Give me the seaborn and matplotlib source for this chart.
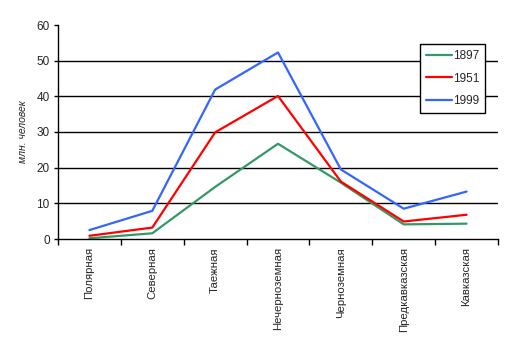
import matplotlib
matplotlib.use("Agg")
import matplotlib.pyplot as plt
import seaborn as sns
import pandas as pd
from matplotlib.ticker import FixedLocator

categories = ["Полярная", "Северная", "Таежная", "Нечерноземная", "Черноземная", "Предкавказская", "Кавказская"]
years = ["1897", "1951", "1999"]
v1897 = [0.2, 1.6, 14.6, 26.7, 15.8, 4.1, 4.3]
v1951 = [0.9, 3.2, 29.9, 40.1, 16.1, 4.9, 6.8]
v1999 = [2.5, 7.9, 41.9, 52.3, 19.5, 8.5, 13.3]
y_ticks = [0, 10, 20, 30, 40, 50, 60]
y_label = "млн. человек"

rows = []
for yr, vals in zip(years, [v1897, v1951, v1999]):
    for c, v in zip(categories, vals):
        rows.append({"Зона": c, "value": v, "year": yr})
df = pd.DataFrame(rows)

sns.set_style("white")
plt.rcParams["font.family"] = ["Liberation Sans", "DejaVu Sans"]

fig = plt.figure(figsize=(5.19, 3.46), dpi=100)
ax = fig.add_axes([58/519, 1-239/346, 440/519, 214/346])

palette = {"1897": "#339966", "1951": "#FF0000", "1999": "#3366FF"}
sns.lineplot(data=df, x="Зона", y="value", hue="year", palette=palette,
             linewidth=1.6, ax=ax, sort=False)

ax.set_xlim(-0.5, len(categories) - 0.5)
ax.set_ylim(0, 60)
ax.set_yticks(y_ticks)
ax.set_yticklabels([str(t) for t in y_ticks], fontsize=8.5)
for t in y_ticks[1:-1]:
    ax.axhline(t, color="black", linewidth=1.0, zorder=0)

ax.set_xticks(range(len(categories)))
ax.set_xticklabels(categories, rotation=90, fontsize=8.2)
ax.tick_params(axis="x", which="major", length=0, pad=6)
ax.xaxis.set_minor_locator(FixedLocator([i - 0.5 for i in range(len(categories) + 1)]))
ax.tick_params(axis="x", which="minor", length=4, width=1, color="black", direction="out", bottom=True)
ax.tick_params(axis="y", which="major", length=3, width=1, color="black", direction="out", left=True, pad=3)

ax.set_xlabel("")
ax.set_ylabel(y_label, fontsize=7.5, style="italic", labelpad=6)

for s in ["top", "right"]:
    ax.spines[s].set_visible(False)
for s in ["left", "bottom"]:
    ax.spines[s].set_color("black")
    ax.spines[s].set_linewidth(1.0)

handles, labels = ax.get_legend_handles_labels()
leg = ax.legend(handles, labels, loc="upper left", bbox_to_anchor=((420-58)/440, (239-44)/214),
                fontsize=8.5, frameon=True, fancybox=False, edgecolor="black",
                framealpha=1, handlelength=2.2, labelspacing=0.9, borderpad=0.5,
                handletextpad=0.1, borderaxespad=0)
leg.get_frame().set_linewidth(1.0)

fig.savefig("out.png", dpi=100)
